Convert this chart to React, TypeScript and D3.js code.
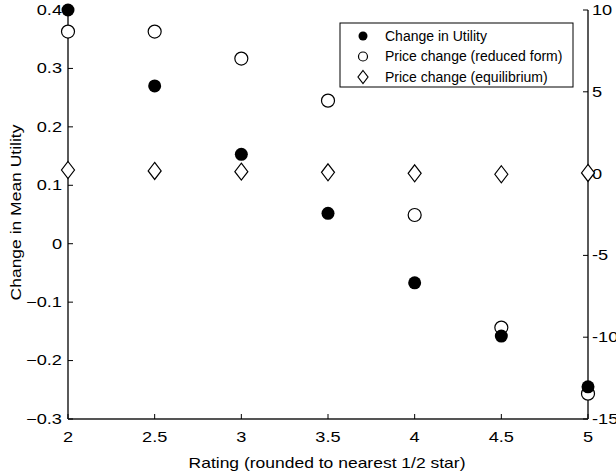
import React from "react"
import * as d3 from "d3"

// ratings on x
const ratings = [2, 2.5, 3, 3.5, 4, 4.5, 5]
// left axis: change in mean utility
const utilityChange = [0.4, 0.27, 0.153, 0.052, -0.067, -0.158, -0.245]
// right axis: price changes
const priceReduced = [8.68, 8.68, 7.03, 4.46, -2.53, -9.41, -13.45]
const priceEquilibrium = [0.22, 0.16, 0.12, 0.08, 0.02, -0.04, 0.04]

const xTicks = [2, 2.5, 3, 3.5, 4, 4.5, 5]
const leftTicks = [-0.3, -0.2, -0.1, 0, 0.1, 0.2, 0.3, 0.4]
const rightTicks = [-15, -10, -5, 0, 5, 10]
const legendLabels = [
  "Change in Utility",
  "Price change (reduced form)",
  "Price change (equilibrium)",
]

const width = 616
const height = 475
const margin = { top: 10, right: 28, bottom: 56, left: 68 }
const font = "'Liberation Sans', Arial, sans-serif"
// the original text is drawn wide, so stretch it sideways
const tickStretch = 1.3
const titleStretch = 1.25

function Diamond({ cx, cy }: { cx: number; cy: number }) {
  const w = 6.5
  const h = 8.5
  return (
    <path
      d={`M${cx},${cy - h}L${cx + w},${cy}L${cx},${cy + h}L${cx - w},${cy}Z`}
      fill="white"
      stroke="black"
      strokeWidth={1.2}
    />
  )
}

export default function App() {
  const x = d3
    .scaleLinear()
    .domain([2, 5])
    .range([margin.left, width - margin.right])
  const yL = d3
    .scaleLinear()
    .domain([-0.3, 0.4])
    .range([height - margin.bottom, margin.top])
  const yR = d3
    .scaleLinear()
    .domain([-15, 10])
    .range([height - margin.bottom, margin.top])

  const x0 = x.range()[0]
  const x1 = x.range()[1]
  const yb = yL.range()[0]
  const yt = yL.range()[1]
  const fmt = d3.format("")
  const r = 6.5

  return (
    <svg
      width={width}
      height={height}
      style={{ position: "absolute", left: 0, top: 0, background: "white" }}
      fontFamily={font}
    >
      {/* axes lines */}
      <line x1={x0} x2={x0} y1={yt} y2={yb} stroke="black" strokeWidth={1.3} />
      <line x1={x1} x2={x1} y1={yt} y2={yb} stroke="black" strokeWidth={1.3} />
      <line x1={x0} x2={x1} y1={yb} y2={yb} stroke="#555" strokeWidth={1.8} />

      {leftTicks.map(t => (
        <g key={"l" + t}>
          <line x1={x0} x2={x0 + 5} y1={yL(t)} y2={yL(t)} stroke="black" />
          <text
            transform={`translate(${x0 - 6},${yL(t)}) scale(${tickStretch},1)`}
            dy="0.35em"
            textAnchor="end"
            fontSize={14}
          >
            {fmt(t)}
          </text>
        </g>
      ))}
      {rightTicks.map(t => (
        <g key={"r" + t}>
          <line x1={x1 - 5} x2={x1} y1={yR(t)} y2={yR(t)} stroke="black" />
          <text
            transform={`translate(${x1 + 4},${yR(t)}) scale(${tickStretch},1)`}
            dy="0.35em"
            fontSize={14}
          >
            {t}
          </text>
        </g>
      ))}
      {xTicks.map(t => (
        <g key={"x" + t}>
          <line x1={x(t)} x2={x(t)} y1={yb} y2={yb - 5} stroke="black" />
          <text
            transform={`translate(${x(t)},${yb + 23}) scale(${tickStretch},1)`}
            textAnchor="middle"
            fontSize={14}
          >
            {t}
          </text>
        </g>
      ))}

      <text
        transform={`translate(${(x0 + x1) / 2 - 1},${height - 7}) scale(${titleStretch},1)`}
        textAnchor="middle"
        fontSize={14}
      >
        Rating (rounded to nearest 1/2 star)
      </text>
      <text
        transform={`translate(21,${(yt + yb) / 2 - 2}) rotate(-90) scale(${titleStretch},1)`}
        textAnchor="middle"
        fontSize={14}
      >
        Change in Mean Utility
      </text>

      {/* marks */}
      {ratings.map((d, i) => (
        <Diamond key={"d" + d} cx={x(d)} cy={yR(priceEquilibrium[i])} />
      ))}
      {ratings.map((d, i) => (
        <circle
          key={"o" + d}
          cx={x(d)}
          cy={yR(priceReduced[i])}
          r={r}
          fill="white"
          stroke="black"
          strokeWidth={1.2}
        />
      ))}
      {ratings.map((d, i) => (
        <circle
          key={"f" + d}
          cx={x(d)}
          cy={yL(utilityChange[i])}
          r={r}
          fill="black"
        />
      ))}

      {/* legend */}
      <g transform="translate(340,23)">
        <rect
          width={233}
          height={64}
          fill="white"
          stroke="black"
          strokeWidth={1}
        />
        {legendLabels.map((l, i) => {
          const cy = 13 + i * 20.5
          return (
            <g key={l}>
              {i === 0 && <circle cx={23} cy={cy} r={4.5} fill="black" />}
              {i === 1 && (
                <circle
                  cx={23}
                  cy={cy}
                  r={4.5}
                  fill="white"
                  stroke="black"
                  strokeWidth={1.2}
                />
              )}
              {i === 2 && (
                <path
                  d={`M23,${cy - 6.5}L28,${cy}L23,${cy + 6.5}L18,${cy}Z`}
                  fill="white"
                  stroke="black"
                  strokeWidth={1.2}
                />
              )}
              <text x={45} y={cy} dy="0.35em" fontSize={14}>
                {l}
              </text>
            </g>
          )
        })}
      </g>
    </svg>
  )
}
